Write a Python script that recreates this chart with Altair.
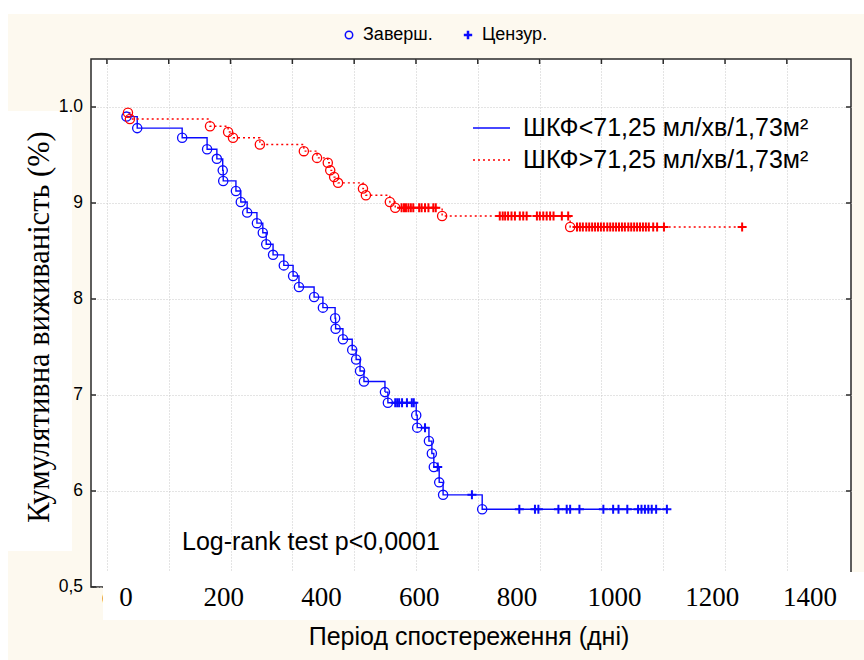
import altair as alt
import pandas as pd

# ---------------- data ----------------
group_names = ["ШКФ<71,25 мл/хв/1,73м²", "ШКФ>71,25 мл/хв/1,73м²"]

blue_event_days = [1, 23, 115, 166, 186, 198, 199, 225, 235, 248, 268, 280, 287, 301, 323, 342, 354,
                   385, 403, 428, 429, 444, 463, 471, 479, 487, 530, 536, 594, 596, 620, 626, 630,
                   641, 649, 729]
blue_event_surv = [0.990, 0.978, 0.968, 0.956, 0.946, 0.934, 0.923, 0.9125, 0.901, 0.890, 0.879, 0.869,
                   0.857, 0.846, 0.835, 0.824, 0.8125, 0.802, 0.791, 0.780, 0.769, 0.758, 0.747, 0.737,
                   0.725, 0.714, 0.703, 0.692, 0.679, 0.666, 0.652, 0.639, 0.625, 0.609, 0.596, 0.581]
blue_censor_days = [551, 555, 559, 565, 575, 585, 589, 612, 638, 708, 805, 837, 844, 885, 902, 909,
                    928, 977, 997, 1008, 1026, 1048, 1055, 1062, 1069, 1076, 1085, 1107]

red_event_days = [4, 8, 172, 209, 219, 274, 364, 391, 413, 418, 426, 434, 485, 491, 540, 551, 647, 909]
red_event_surv = [0.994, 0.9875, 0.980, 0.974, 0.968, 0.961, 0.954, 0.947, 0.942, 0.934, 0.927,
                  0.921, 0.915, 0.908, 0.901, 0.895, 0.8865, 0.875]
red_censor_days = [564, 569, 573, 578, 583, 588, 600, 605, 612, 619, 629, 634,
                   765, 771, 776, 782, 789, 796, 806, 813, 820, 841, 847, 854, 861, 868, 875, 892, 905,
                   923, 929, 935, 942, 948, 954, 960, 966, 972, 978, 985, 991, 997, 1003, 1009, 1015,
                   1021, 1028, 1034, 1040, 1046, 1052, 1058, 1064, 1070, 1079, 1087, 1101, 1261]

x_grid_days = [-39, 87.5, 214, 340.5, 467, 593.5, 720, 846.5, 973, 1099.5, 1226, 1352.5]
x_label_values = [0, 200, 400, 600, 800, 1000, 1200, 1400]
y_tick_values = [0.5, 0.6, 0.7, 0.8, 0.9, 1.0]
y_tick_labels = ["0,5", "6", "7", "8", "9", "1.0"]
marker_legend = ["Заверш.", "Цензур."]

BLUE = "#0a0aff"
RED = "#ff0000"
FRAME = "#2a2a2a"
SANS = "Liberation Sans"
SERIF = "Liberation Serif"


def km_rows(name, ev_t, ev_s, cen_t):
    rows = []
    for t, s in zip(ev_t, ev_s):
        rows.append({"group": name, "day": t, "surv": s, "kind": "event"})
    for t in cen_t:
        s = [sv for tv, sv in zip(ev_t, ev_s) if tv <= t][-1]
        rows.append({"group": name, "day": t, "surv": s, "kind": "censor"})
    rows.sort(key=lambda r: (r["day"], -r["surv"]))
    for i, r in enumerate(rows):
        r["seq"] = i
    return rows


km = pd.DataFrame(km_rows(group_names[0], blue_event_days, blue_event_surv, blue_censor_days)
                  + km_rows(group_names[1], red_event_days, red_event_surv, red_censor_days))

x_scale = alt.Scale(domain=[-71.6, 1483.8], nice=False, zero=False)
y_scale = alt.Scale(domain=[0.5, 1.05], nice=False, zero=False)
x_axis = alt.Axis(values=x_grid_days, grid=True, labels=False, ticks=False, domain=False, title=None,
                  gridColor="#c9c9c9", gridDash=[1, 2], gridWidth=1)
y_axis = alt.Axis(values=y_tick_values, grid=True, labels=False, ticks=False, domain=False, title=None,
                  gridColor="#c9c9c9", gridDash=[1, 2], gridWidth=1)


def X(f):
    return alt.X(f, type="quantitative", scale=x_scale, axis=x_axis)


def Y(f):
    return alt.Y(f, type="quantitative", scale=y_scale, axis=y_axis)


color = alt.Color("group:N", scale=alt.Scale(domain=group_names, range=[BLUE, RED]), legend=None)
dash = alt.StrokeDash("group:N", scale=alt.Scale(domain=group_names, range=[[1, 0], [2, 3]]), legend=None)

one = pd.DataFrame({"k": [0]})
ytick_df = pd.DataFrame({"v": y_tick_values, "label": y_tick_labels})
xgrid_df = pd.DataFrame({"g": x_grid_days})
xlab_df = pd.DataFrame({"v": x_label_values, "label": [str(v) for v in x_label_values]})

# white strips at the top and left edges of the picture
strip_top = alt.Chart(one).mark_rect(color="white").encode(
    x=alt.value(-91), x2=alt.value(773), y=alt.value(-59), y2=alt.value(-45))
strip_left = alt.Chart(one).mark_rect(color="white").encode(
    x=alt.value(-91), x2=alt.value(-83), y=alt.value(-59), y2=alt.value(601))

# inward ticks
tick_left = alt.Chart(ytick_df).mark_rule(color=FRAME, strokeWidth=1.5).encode(
    y=Y("v"), x=alt.value(0), x2=alt.value(5))
tick_right = alt.Chart(ytick_df).mark_rule(color=FRAME, strokeWidth=1.5).encode(
    y=Y("v"), x=alt.value(755), x2=alt.value(760))
tick_top = alt.Chart(xgrid_df).mark_rule(color=FRAME, strokeWidth=1.5).encode(
    x=X("g"), y=alt.value(0), y2=alt.value(5))

lines = alt.Chart(km).mark_line(interpolate="step-after", strokeWidth=1.4).encode(
    x=X("day"), y=Y("surv"), color=color, strokeDash=dash, order=alt.Order("seq:Q"))
events = alt.Chart(km).transform_filter(alt.datum.kind == "event").mark_point(
    shape="circle", filled=False, size=85, strokeWidth=1.3, opacity=1).encode(
    x=X("day"), y=Y("surv"), color=color)
censors = alt.Chart(km).transform_filter(alt.datum.kind == "censor").mark_point(
    shape="M-1,0H1M0,-1V1", filled=False, size=81, strokeWidth=2, opacity=1).encode(
    x=X("day"), y=Y("surv"), color=color)

# original label hidden behind the pasted label strip
hidden_zero = alt.Chart(xgrid_df.head(1)).mark_text(
    text="0", font=SANS, fontSize=18, baseline="middle", color="black").encode(
    x=X("g"), y=alt.value(541))

box_xlabels = alt.Chart(one).mark_rect(color="white").encode(
    x=alt.value(12), x2=alt.value(773), y=alt.value(513), y2=alt.value(561))
box_ytitle = alt.Chart(one).mark_rect(color="white").encode(
    x=alt.value(-83), x2=alt.value(-19), y=alt.value(52), y2=alt.value(492))

ylabels = alt.Chart(ytick_df).mark_text(
    align="right", baseline="middle", font=SANS, fontSize=17.5, color="black").encode(
    y=Y("v"), x=alt.value(-8), text="label:N")
xlabels = alt.Chart(xlab_df).mark_text(
    align="center", baseline="middle", font=SERIF, fontSize=27, color="black").encode(
    x=X("v"), y=alt.value(539), text="label:N")

ytitle = alt.Chart(one).mark_text(
    text="Кумулятивна виживаність (%)", angle=270, align="center", baseline="middle",
    font=SERIF, fontSize=30.5, color="black").encode(x=alt.value(-51), y=alt.value(268))
xtitle = alt.Chart(one).mark_text(
    text="Період спостереження (дні)", align="center", baseline="middle",
    font=SANS, fontSize=25, color="black").encode(x=alt.value(378), y=alt.value(578))
logrank = alt.Chart(one).mark_text(
    text="Log-rank test p<0,0001", align="left", baseline="middle",
    font=SANS, fontSize=25, color="black").encode(x=alt.value(91), y=alt.value(483))

# legend for marker types (top)
leg_circle = alt.Chart(one).mark_point(shape="circle", filled=False, size=55, strokeWidth=1.5,
                                       color=BLUE, opacity=1).encode(x=alt.value(258), y=alt.value(-24))
leg_plus = alt.Chart(one).mark_point(shape="M-1,0H1M0,-1V1", filled=False, size=70, strokeWidth=2.5,
                                     color=BLUE, opacity=1).encode(x=alt.value(377), y=alt.value(-24))
leg_t1 = alt.Chart(one).mark_text(text=marker_legend[0], align="left", baseline="middle", font=SANS,
                                  fontSize=18, color="black").encode(x=alt.value(272), y=alt.value(-24))
leg_t2 = alt.Chart(one).mark_text(text=marker_legend[1], align="left", baseline="middle", font=SANS,
                                  fontSize=18, color="black").encode(x=alt.value(391), y=alt.value(-24))

# legend for groups (inside)
gl1 = alt.Chart(one).mark_rule(color=BLUE, strokeWidth=1.3).encode(
    x=alt.value(382), x2=alt.value(419), y=alt.value(69))
gl2 = alt.Chart(one).mark_rule(color=RED, strokeWidth=1.3, strokeDash=[2, 3]).encode(
    x=alt.value(382), x2=alt.value(419), y=alt.value(101))
gt1 = alt.Chart(one).mark_text(text=group_names[0], align="left", baseline="middle", font=SANS,
                               fontSize=25, color="black").encode(x=alt.value(432), y=alt.value(69))
gt2 = alt.Chart(one).mark_text(text=group_names[1], align="left", baseline="middle", font=SANS,
                               fontSize=25, color="black").encode(x=alt.value(432), y=alt.value(101))

chart = alt.layer(
    strip_top, strip_left, tick_left, tick_right, tick_top, lines, events, censors,
    hidden_zero, box_xlabels, box_ytitle, ylabels, xlabels, ytitle, xtitle, logrank,
    leg_circle, leg_plus, leg_t1, leg_t2, gl1, gl2, gt1, gt2,
).properties(
    width=760, height=528,
    padding={"left": 91, "top": 59, "right": 13, "bottom": 73},
    autosize=alt.AutoSizeParams(type="none"),
    background="#fdf9ef",
).configure_view(stroke=FRAME, strokeWidth=1.5, fill="white")

chart.save("out.html", embed_options={"renderer": "svg", "actions": False})
